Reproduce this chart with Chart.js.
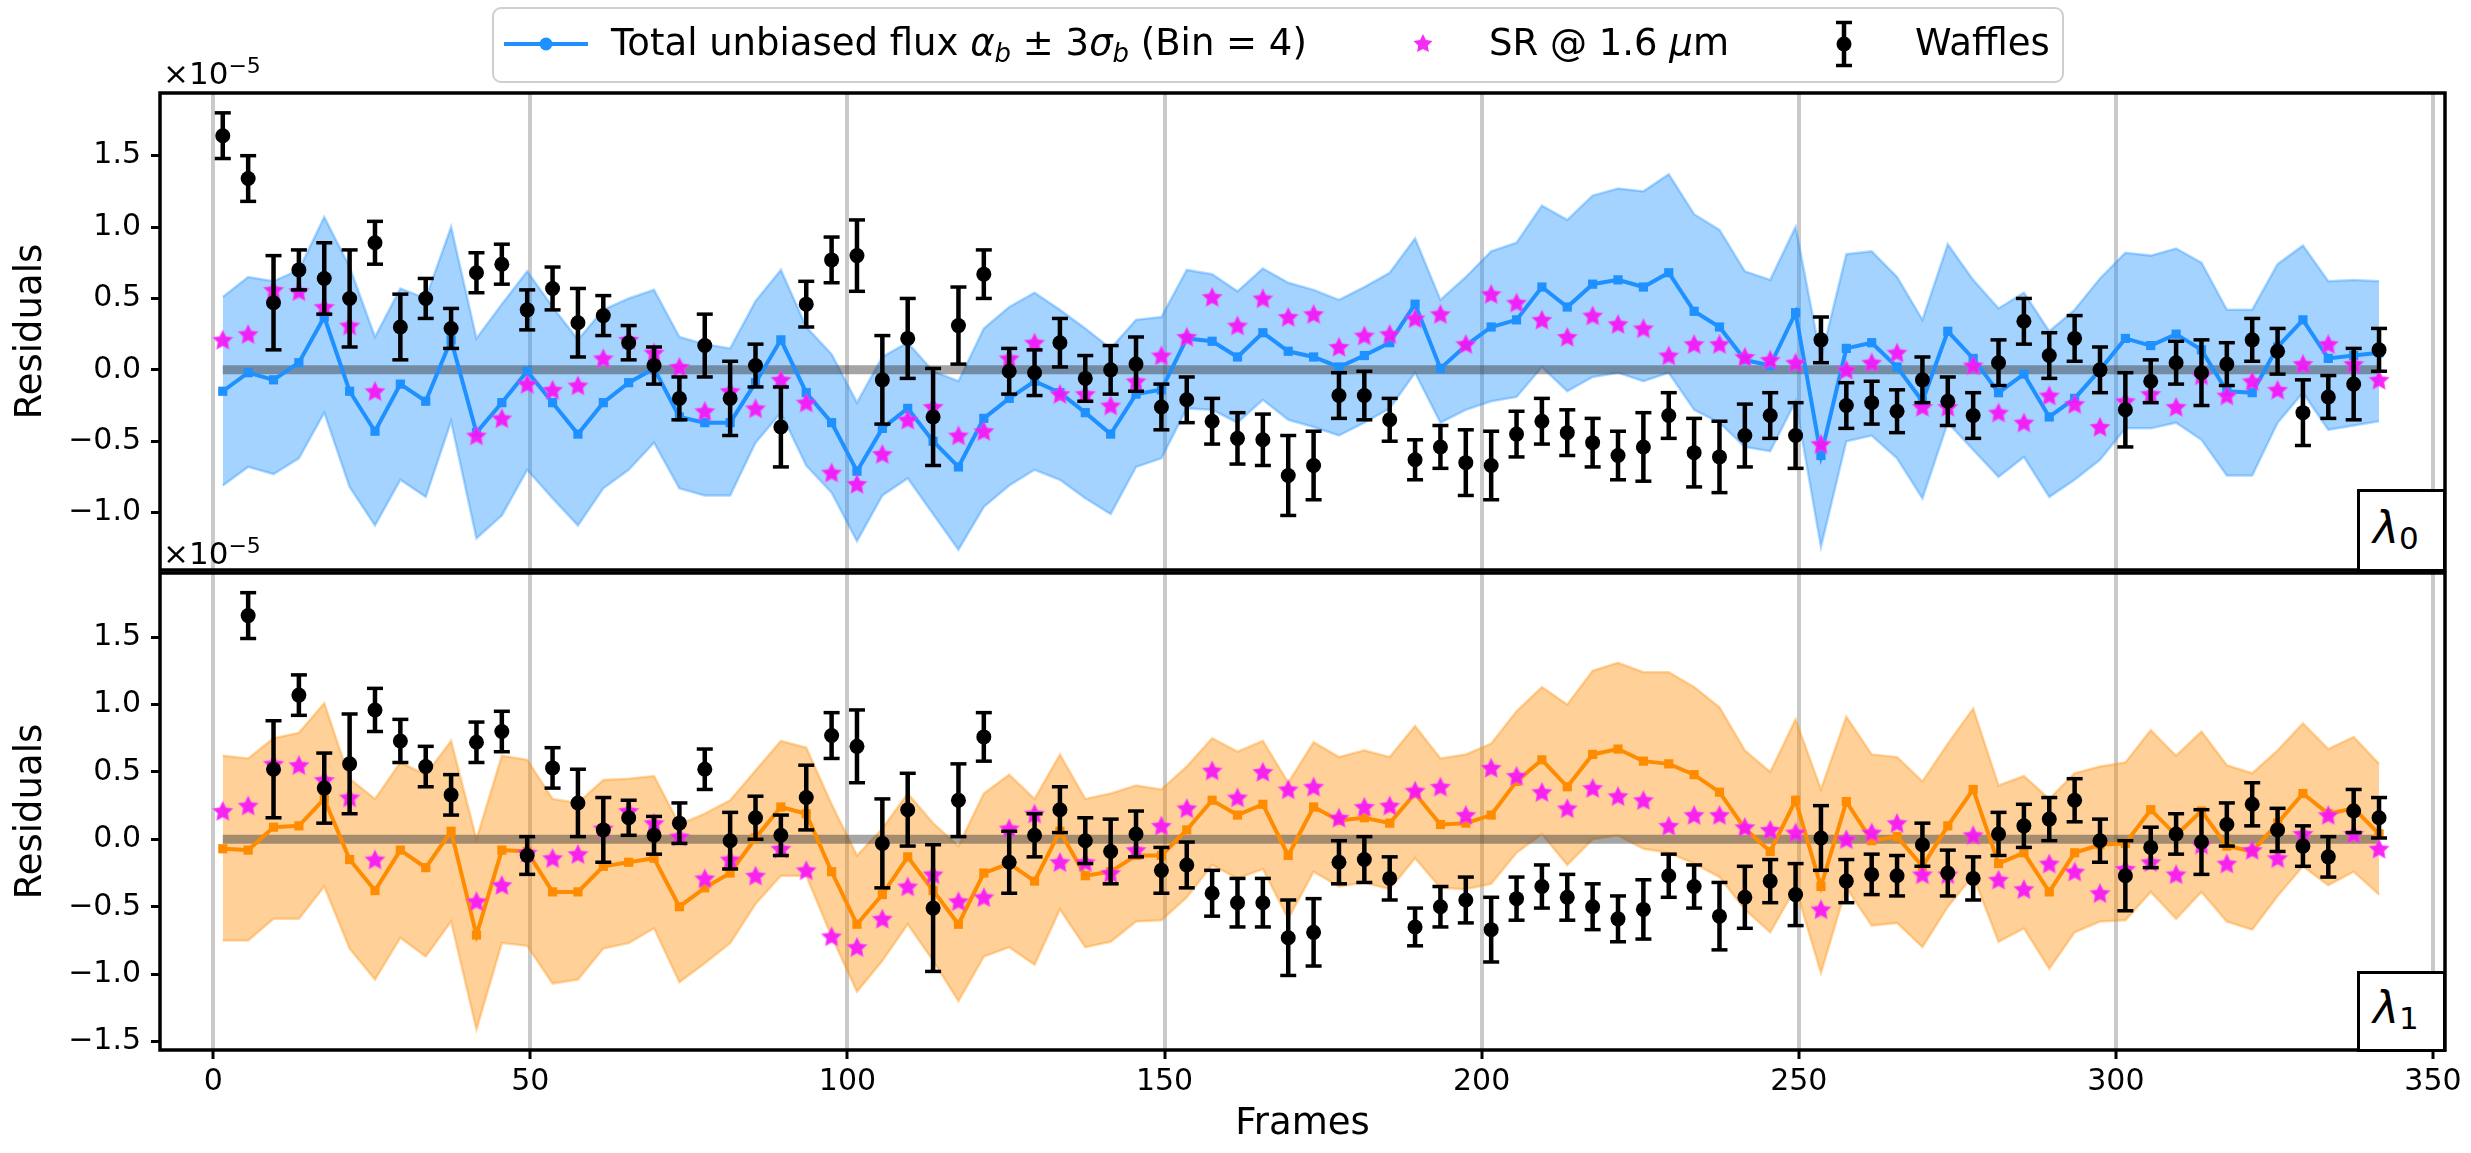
<!DOCTYPE html>
<html><head><meta charset="utf-8">
<script src="https://cdn.jsdelivr.net/npm/chart.js@4.4.1/dist/chart.umd.min.js"></script>
<style>
html,body{margin:0;padding:0;background:#fff;}
body{width:2471px;height:1153px;position:relative;overflow:hidden;font-family:'DejaVu Sans',sans-serif;color:#000;}
canvas{position:absolute;left:0;}
.abs{position:absolute;white-space:nowrap;z-index:5;}
.txt{font-size:37px;line-height:37px;}
.txt sub{font-size:0.7em;vertical-align:-0.28em;font-style:italic;line-height:0;}
.off{font-size:31px;line-height:31px;}
.off sup{font-size:22px;vertical-align:0.5em;line-height:0;}
.lambox{position:absolute;border:3px solid #000;background:#fff;box-sizing:border-box;z-index:4;}
.lam{font-size:44px;line-height:44px;}
.lam sub{font-size:31px;vertical-align:-0.2em;line-height:0;}
</style></head><body>
<canvas id="c1" width="2471" height="540" style="top:60px"></canvas>
<canvas id="c2" width="2471" height="613" style="top:540px"></canvas>

<div class="abs" style="left:492px;top:7px;width:1572px;height:76px;border:2.5px solid #cfcfcf;border-radius:9px;box-sizing:border-box;background:rgba(255,255,255,0.85);z-index:4"></div>
<svg class="abs" style="left:503px;top:34px" width="86" height="20"><line x1="1" y1="10" x2="85" y2="10" stroke="#1e90ff" stroke-width="4"/><circle cx="43" cy="10" r="6.5" fill="#1e90ff"/></svg>
<div class="abs txt" style="left:611px;top:24px">Total unbiased flux <i>α</i><sub>b</sub> ± 3<i>σ</i><sub>b</sub> (Bin = 4)</div>
<svg class="abs" style="left:1410px;top:31px" width="26" height="26"><polygon points="13,3 15.94,8.95 22.51,9.91 17.76,14.54 18.88,21.09 13,18 7.12,21.09 8.24,14.54 3.49,9.91 10.06,8.95" fill="rgba(245,20,245,0.9)"/></svg>
<div class="abs txt" style="left:1489px;top:24px">SR @ 1.6 <i>μ</i>m</div>
<svg class="abs" style="left:1829px;top:20px" width="30" height="48"><line x1="15" y1="2" x2="15" y2="46" stroke="#000" stroke-width="4.5"/><line x1="7" y1="2.5" x2="23" y2="2.5" stroke="#000" stroke-width="3.5"/><line x1="7" y1="45.5" x2="23" y2="45.5" stroke="#000" stroke-width="3.5"/><circle cx="15" cy="24" r="7.5" fill="#000"/></svg>
<div class="abs txt" style="left:1915px;top:24px">Waffles</div>

<div class="abs off" style="left:163px;top:58px">×10<sup>−5</sup></div>
<div class="abs off" style="left:163px;top:538px">×10<sup>−5</sup></div>

<div class="lambox" style="left:2357px;top:489px;width:89px;height:83px"></div>
<div class="abs lam" style="left:2373px;top:506px"><i>λ</i><sub>0</sub></div>
<div class="lambox" style="left:2357px;top:971px;width:89px;height:81px"></div>
<div class="abs lam" style="left:2373px;top:986px"><i>λ</i><sub>1</sub></div>

<script>
// Frame numbers (bin centres, Bin = 4)
const frames = [1.5,5.5,9.5,13.5,17.5,21.5,25.5,29.5,33.5,37.5,
41.5,45.5,49.5,53.5,57.5,61.5,65.5,69.5,73.5,77.5,
81.5,85.5,89.5,93.5,97.5,101.5,105.5,109.5,113.5,117.5,
121.5,125.5,129.5,133.5,137.5,141.5,145.5,149.5,153.5,157.5,
161.5,165.5,169.5,173.5,177.5,181.5,185.5,189.5,193.5,197.5,
201.5,205.5,209.5,213.5,217.5,221.5,225.5,229.5,233.5,237.5,
241.5,245.5,249.5,253.5,257.5,261.5,265.5,269.5,273.5,277.5,
281.5,285.5,289.5,293.5,297.5,301.5,305.5,309.5,313.5,317.5,
321.5,325.5,329.5,333.5,337.5,341.5];

// All residual values in units of 1e-5
// SR @ 1.6 um (same in both panels)
const srValues = [0.21,0.25,0.56,0.55,0.44,0.31,-0.15,null,null,null,
-0.46,-0.34,-0.10,-0.14,-0.11,0.08,0.21,0.12,0.02,-0.29,
-0.15,-0.27,-0.07,-0.23,-0.72,-0.80,-0.59,-0.35,-0.26,-0.46,
-0.43,0.08,0.19,-0.17,-0.17,-0.25,-0.08,0.10,0.23,0.51,
0.31,0.50,0.37,0.39,0.16,0.24,0.25,0.36,0.39,0.18,
0.53,0.47,0.35,0.23,0.38,0.32,0.29,0.10,0.18,0.18,
0.09,0.07,0.05,-0.52,0.00,0.05,0.12,-0.26,-0.26,0.03,
-0.30,-0.37,-0.18,-0.24,-0.40,-0.22,-0.17,-0.26,-0.04,-0.18,
-0.08,-0.14,0.04,0.18,0.04,-0.07];

// lambda0 panel
const fluxL0 = [-0.15,-0.02,-0.07,0.05,0.37,-0.15,-0.43,-0.10,-0.22,0.21,
-0.44,-0.23,-0.01,-0.23,-0.45,-0.23,-0.09,0.01,-0.33,-0.37,
-0.37,-0.09,0.21,-0.16,-0.37,-0.71,-0.41,-0.27,-0.50,-0.68,
-0.34,-0.20,-0.08,-0.16,-0.30,-0.45,-0.17,-0.14,0.22,0.20,
0.09,0.26,0.13,0.09,0.02,0.10,0.19,0.46,0.01,0.17,
0.30,0.35,0.58,0.44,0.60,0.63,0.58,0.68,0.41,0.30,
0.07,0.03,0.40,-0.60,0.15,0.19,0.02,-0.22,0.27,0.08,
-0.16,-0.03,-0.33,-0.20,0.00,0.22,0.17,0.25,0.14,-0.15,
-0.16,0.16,0.35,0.08,0.10,0.12];
const upperL0 = [0.51,0.65,0.62,0.70,1.07,0.72,0.23,0.57,0.50,1.00,
0.22,0.46,0.69,0.44,0.21,0.42,0.50,0.56,0.23,0.18,
0.15,0.48,0.70,0.30,0.11,-0.23,0.09,0.19,-0.01,-0.08,
0.29,0.44,0.54,0.42,0.29,0.15,0.35,0.37,0.70,0.67,
0.55,0.71,0.61,0.56,0.49,0.58,0.68,0.92,0.49,0.65,
0.83,0.89,1.15,1.05,1.22,1.27,1.25,1.37,1.09,0.98,
0.69,0.63,1.00,0.08,0.81,0.83,0.65,0.35,0.88,0.63,
0.43,0.54,0.27,0.42,0.64,0.82,0.80,0.85,0.75,0.42,
0.42,0.74,0.87,0.62,0.63,0.62];
const lowerL0 = [-0.81,-0.68,-0.73,-0.62,-0.30,-0.82,-1.09,-0.77,-0.89,-0.36,
-1.18,-1.02,-0.70,-0.90,-1.09,-0.83,-0.70,-0.51,-0.83,-0.88,
-0.88,-0.51,-0.30,-0.67,-0.86,-1.20,-0.88,-0.76,-1.01,-1.26,
-0.96,-0.81,-0.70,-0.77,-0.90,-1.01,-0.68,-0.62,-0.27,-0.28,
-0.37,-0.21,-0.35,-0.40,-0.46,-0.37,-0.27,-0.02,-0.37,-0.28,
-0.22,-0.19,0.02,-0.15,-0.05,-0.02,-0.08,-0.02,-0.28,-0.37,
-0.54,-0.57,-0.22,-1.24,-0.50,-0.46,-0.62,-0.90,-0.37,-0.56,
-0.75,-0.61,-0.89,-0.77,-0.63,-0.41,-0.41,-0.37,-0.49,-0.74,
-0.74,-0.37,-0.16,-0.42,-0.39,-0.36];
const wafL0 = [1.64,1.34,0.47,0.70,0.64,0.50,0.89,0.30,0.50,0.29,
0.68,0.74,0.42,0.57,0.33,0.38,0.19,0.03,-0.20,0.17,
-0.20,0.03,-0.40,0.46,0.77,0.80,-0.07,0.22,-0.33,0.31,
0.67,-0.01,-0.02,0.19,-0.06,0.00,0.04,-0.26,-0.21,-0.36,
-0.48,-0.49,-0.74,-0.67,-0.18,-0.18,-0.35,-0.63,-0.54,-0.65,
-0.67,-0.45,-0.36,-0.44,-0.51,-0.60,-0.54,-0.32,-0.58,-0.61,
-0.46,-0.32,-0.46,0.21,-0.25,-0.23,-0.29,-0.07,-0.22,-0.32,
0.05,0.34,0.10,0.22,0.00,-0.28,-0.08,0.05,-0.02,0.04,
0.21,0.13,-0.30,-0.19,-0.10,0.14];
const wafErrL0 = [0.16,0.16,0.33,0.14,0.25,0.34,0.15,0.23,0.14,0.14,
0.14,0.14,0.14,0.15,0.24,0.14,0.12,0.13,0.15,0.22,
0.26,0.15,0.28,0.16,0.16,0.25,0.31,0.28,0.34,0.27,
0.17,0.16,0.16,0.17,0.16,0.17,0.19,0.16,0.16,0.16,
0.18,0.18,0.28,0.24,0.16,0.17,0.15,0.14,0.15,0.23,
0.24,0.16,0.16,0.16,0.17,0.17,0.24,0.16,0.24,0.25,
0.22,0.16,0.23,0.16,0.16,0.15,0.15,0.16,0.17,0.16,
0.16,0.16,0.16,0.16,0.16,0.26,0.15,0.15,0.23,0.15,
0.15,0.16,0.23,0.15,0.25,0.15];

// lambda1 panel
const fluxL1 = [-0.07,-0.08,0.09,0.10,0.30,-0.15,-0.38,-0.08,-0.21,0.06,
-0.71,-0.08,-0.09,-0.39,-0.39,-0.20,-0.17,-0.14,-0.50,-0.36,
-0.25,0.01,0.24,0.19,-0.24,-0.63,-0.41,-0.13,-0.38,-0.63,
-0.25,-0.18,-0.31,0.06,-0.27,-0.24,-0.12,-0.12,0.07,0.29,
0.18,0.26,-0.12,0.24,0.14,0.16,0.12,0.34,0.11,0.12,
0.18,0.43,0.59,0.39,0.63,0.67,0.58,0.56,0.48,0.35,
0.08,-0.09,0.29,-0.35,0.28,-0.01,0.02,-0.20,0.10,0.37,
-0.18,-0.10,-0.39,-0.10,-0.04,-0.03,0.22,0.03,0.21,-0.05,
-0.09,0.12,0.34,0.19,0.23,0.04];
const upperL1 = [0.62,0.60,0.75,0.79,1.01,0.45,0.30,0.57,0.48,0.73,
0.00,0.62,0.59,0.30,0.27,0.44,0.45,0.47,0.11,0.19,
0.29,0.51,0.73,0.68,0.26,-0.12,0.08,0.34,0.12,-0.05,
0.34,0.48,0.30,0.63,0.30,0.34,0.40,0.37,0.54,0.75,
0.65,0.73,0.42,0.72,0.61,0.66,0.61,0.84,0.60,0.63,
0.71,0.95,1.13,1.00,1.25,1.31,1.24,1.24,1.13,0.98,
0.66,0.50,0.89,0.37,0.91,0.63,0.61,0.43,0.71,0.97,
0.40,0.47,0.30,0.49,0.54,0.57,0.81,0.62,0.80,0.55,
0.49,0.66,0.86,0.67,0.76,0.56];
const lowerL1 = [-0.75,-0.75,-0.59,-0.59,-0.35,-0.81,-1.04,-0.73,-0.87,-0.61,
-1.41,-0.77,-0.79,-1.07,-1.04,-0.81,-0.77,-0.66,-1.06,-0.92,
-0.77,-0.48,-0.27,-0.27,-0.72,-1.13,-0.90,-0.63,-0.90,-1.20,
-0.87,-0.80,-0.93,-0.52,-0.80,-0.76,-0.61,-0.60,-0.43,-0.19,
-0.29,-0.22,-0.59,-0.24,-0.35,-0.32,-0.37,-0.14,-0.36,-0.37,
-0.33,-0.10,0.04,-0.19,0.00,0.03,-0.07,-0.10,-0.18,-0.28,
-0.52,-0.69,-0.36,-0.99,-0.36,-0.64,-0.62,-0.80,-0.50,-0.27,
-0.76,-0.66,-0.96,-0.69,-0.61,-0.60,-0.39,-0.59,-0.39,-0.61,
-0.67,-0.42,-0.20,-0.34,-0.24,-0.41];
const wafL1 = [null,1.66,0.52,1.07,0.38,0.56,0.96,0.73,0.54,0.33,
0.72,0.80,-0.12,0.53,0.27,0.07,0.16,0.03,0.12,0.52,
-0.01,0.16,0.03,0.31,0.77,0.69,-0.03,0.22,-0.51,0.29,
0.76,-0.17,0.03,0.22,-0.01,-0.09,0.04,-0.23,-0.19,-0.40,
-0.47,-0.47,-0.73,-0.69,-0.17,-0.15,-0.29,-0.65,-0.50,-0.45,
-0.67,-0.44,-0.35,-0.43,-0.50,-0.59,-0.52,-0.27,-0.35,-0.57,
-0.43,-0.31,-0.41,0.01,-0.31,-0.26,-0.27,-0.04,-0.25,-0.29,
0.04,0.10,0.15,0.29,-0.01,-0.27,-0.06,0.04,-0.02,0.11,
0.26,0.07,-0.05,-0.13,0.21,0.16];
const wafErrL1 = [null,0.17,0.36,0.15,0.26,0.37,0.16,0.16,0.15,0.15,
0.15,0.15,0.14,0.15,0.25,0.24,0.13,0.14,0.15,0.15,
0.21,0.16,0.15,0.24,0.17,0.27,0.33,0.27,0.47,0.27,
0.18,0.23,0.16,0.17,0.17,0.24,0.17,0.17,0.17,0.17,
0.18,0.18,0.28,0.25,0.16,0.17,0.16,0.14,0.15,0.17,
0.24,0.16,0.16,0.17,0.17,0.17,0.22,0.16,0.16,0.25,
0.23,0.16,0.23,0.24,0.16,0.15,0.15,0.16,0.17,0.16,
0.16,0.16,0.16,0.16,0.16,0.26,0.15,0.15,0.24,0.16,
0.16,0.16,0.15,0.15,0.16,0.15];

const xTickStep = 50;
const yTickStep = 0.5;

Chart.defaults.font.family = "'DejaVu Sans', sans-serif";
Chart.defaults.color = '#000';

function makeStar(r, color) {
  const s = Math.ceil(r * 2 + 4);
  const c = document.createElement('canvas');
  c.width = s; c.height = s;
  const g = c.getContext('2d');
  g.translate(s / 2, s / 2 + r * 0.08);
  g.beginPath();
  for (let i = 0; i < 10; i++) {
    const rr = i % 2 === 0 ? r : r * 0.5;
    const a = -Math.PI / 2 + i * Math.PI / 5;
    g.lineTo(rr * Math.cos(a), rr * Math.sin(a));
  }
  g.closePath();
  g.fillStyle = color; g.fill();
  g.lineWidth = 1.2; g.strokeStyle = 'rgba(255,60,255,0.7)'; g.stroke();
  return c;
}
const starImg = makeStar(10, 'rgba(245,20,245,0.92)');

function pts(ys) { return frames.map((f, i) => ({x: f, y: ys[i]})); }
function errPts(v, e) {
  const out = [];
  frames.forEach((f, i) => {
    if (v[i] == null) return;
    out.push({x: f, y: v[i] - e[i]}, {x: f, y: v[i] + e[i]}, {x: f, y: null});
  });
  return out;
}
const fmt = v => {
  const r = Math.round(v * 10) / 10;
  if (Math.abs(r) < 1e-9) return '0.0';
  return (r < 0 ? '\u2212' : '') + Math.abs(r).toFixed(1);
};

const framePlugin = {
  id: 'frame',
  afterDatasetsDraw(chart) {
    const {ctx, chartArea: a} = chart;
    ctx.save();
    ctx.strokeStyle = '#000'; ctx.lineWidth = 3.5;
    ctx.strokeRect(a.left, a.top, a.right - a.left, a.bottom - a.top);
    ctx.restore();
  }
};

function makePanel(id, flux, up, lo, waf, wafErr, col, bandFill, bandEdge, yMin, yMax, isBottom, pad) {
  return new Chart(document.getElementById(id), {
    type: 'line',
    data: {
      datasets: [
        {data: pts(up), borderColor: bandEdge, borderWidth: 2.5, backgroundColor: bandFill, fill: '+1', pointRadius: 0, order: 6},
        {data: pts(lo), borderColor: bandEdge, borderWidth: 2.5, fill: false, pointRadius: 0, order: 5},
        {data: [{x: frames[0], y: 0}, {x: frames[frames.length - 1], y: 0}], borderColor: 'rgba(55,55,55,0.45)', borderWidth: 9, borderCapStyle: 'butt', pointRadius: 0, order: 4},
        {data: pts(flux), borderColor: col, borderWidth: 4, pointStyle: 'rect', pointRadius: 6.5, pointBackgroundColor: col, pointBorderWidth: 0, order: 3},
        {data: pts(srValues), showLine: false, pointStyle: starImg, pointRadius: 10, order: 2},
        {data: errPts(waf, wafErr), borderColor: '#000', borderWidth: 4.5, pointStyle: 'line', pointRadius: 8, pointBorderColor: '#000', pointBorderWidth: 3.5, spanGaps: false, order: 1},
        {data: pts(waf), showLine: false, pointStyle: 'circle', pointRadius: 7.5, pointBackgroundColor: '#000', pointBorderWidth: 0, order: 0}
      ]
    },
    options: {
      responsive: false, animation: false, devicePixelRatio: 1, events: [],
      layout: {padding: pad},
      plugins: {legend: {display: false}, tooltip: {enabled: false}},
      elements: {line: {tension: 0}},
      scales: {
        x: {
          type: 'linear', min: -8.4, max: 351.9,
          ticks: {stepSize: xTickStep, includeBounds: false, display: isBottom, color: '#000', font: {size: 30}, padding: 5, maxRotation: 0},
          grid: {color: 'rgba(150,150,150,0.5)', lineWidth: 4, drawTicks: isBottom, tickLength: 9, tickWidth: 3, tickColor: '#000'},
          border: {display: false},
          title: {display: isBottom, text: 'Frames', color: '#000', font: {size: 37}, padding: {top: 0, bottom: 6}},
          afterFit: s => { s.height = isBottom ? 103 : 0; s.paddingLeft = 0; s.paddingRight = 0; }
        },
        y: {
          min: yMin, max: yMax,
          ticks: {stepSize: yTickStep, includeBounds: false, color: '#000', font: {size: 30}, padding: 10, callback: fmt},
          grid: {drawOnChartArea: false, tickLength: 9, tickWidth: 3, tickColor: '#000', color: '#000'},
          border: {display: false},
          title: {display: true, text: 'Residuals', color: '#000', font: {size: 37}, padding: {top: 9, bottom: 0}},
          afterFit: s => { s.width = 160; s.paddingTop = 0; s.paddingBottom = 0; }
        }
      }
    },
    plugins: [framePlugin]
  });
}

makePanel('c1', fluxL0, upperL0, lowerL0, wafL0, wafErrL0, '#1e90ff', 'rgba(30,144,255,0.4)', 'rgba(30,144,255,0.35)', -1.402, 1.939, false, {left: 0, right: 26, top: 33, bottom: 30});
makePanel('c2', fluxL1, upperL1, lowerL1, wafL1, wafErrL1, '#ff8c00', 'rgba(255,140,0,0.4)', 'rgba(255,140,0,0.35)', -1.563, 1.976, true, {left: 0, right: 26, top: 33, bottom: 0});
</script>
</body></html>
